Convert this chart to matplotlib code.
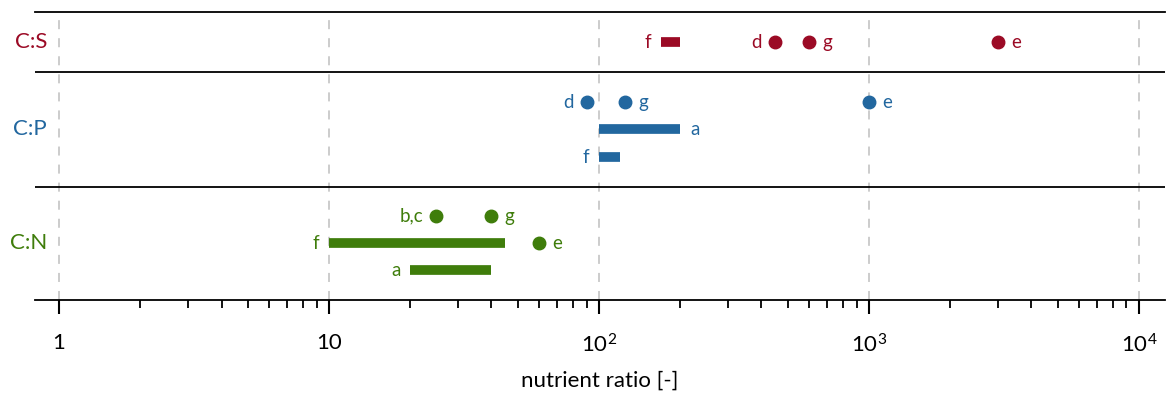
import matplotlib
matplotlib.use("Agg")
import matplotlib.pyplot as plt
from matplotlib.ticker import FixedLocator, FixedFormatter, NullFormatter

plt.rcParams['font.family'] = ['Lato', 'DejaVu Sans']
plt.rcParams['mathtext.fontset'] = 'custom'
plt.rcParams['mathtext.rm'] = 'Lato'
plt.rcParams['mathtext.it'] = 'Lato'

# ---- data ----
row_names = ["C:S", "C:P", "C:N"]
row_colors = ["#9b0a25", "#22679f", "#3f7d0b"]

# C:S
cs_pt_labels = ["d", "g", "e"]
cs_pt_values = [450, 600, 3000]
cs_bar_labels = ["f"]
cs_bar_lo = [170]
cs_bar_hi = [200]

# C:P
cp_pt_labels = ["d", "g", "e"]
cp_pt_values = [90, 125, 1000]
cp_bar_labels = ["a", "f"]
cp_bar_lo = [100, 100]
cp_bar_hi = [200, 120]

# C:N
cn_pt_labels = ["b,c", "g", "e"]
cn_pt_values = [25, 40, 60]
cn_bar_labels = ["f", "a"]
cn_bar_lo = [10, 20]
cn_bar_hi = [45, 40]

tick_vals = [1, 10, 100, 1000, 10000]
tick_text = ["1", "10", "$10^2$", "$10^3$", "$10^4$"]

# ---- layout (y in pixel-like units, top = 12, bottom = 300) ----
dividers = [72, 187]
row_centers = [42, 129, 243]
cs_pt_y = [42, 42, 42]
cs_pt_side = ["left", "right", "right"]
cs_bar_y = [42]
cs_bar_side = ["left"]
cp_pt_y = [102, 102, 102]
cp_pt_side = ["left", "right", "right"]
cp_bar_y = [129, 157]
cp_bar_side = ["right", "left"]
cn_pt_y = [216, 216, 243]
cn_pt_side = ["left", "right", "right"]
cn_bar_y = [243, 270]
cn_bar_side = ["left", "left"]

fig = plt.figure(figsize=(11.7, 3.96), dpi=100)
ax = fig.add_axes([35/1170, 96/396, 1130/1170, 288/396])
ax.set_xscale('log')
ax.set_xlim(0.815, 12500)
ax.set_ylim(300, 12)

for v in tick_vals:
    ax.axvline(v, color='#c8c8c8', lw=1.3, ls=(0, (5, 5)), zorder=0)
for d in dividers:
    ax.axhline(d, color='black', lw=1.3)

def label(x, y, txt, side, color, off):
    off = -off if side == "left" else off
    ha = 'right' if side == "left" else 'left'
    ax.annotate(txt, (x, y), xytext=(off, 0), textcoords='offset points',
                ha=ha, va='center', color=color, fontsize=13.5)

groups = [
    (cs_pt_labels, cs_pt_values, cs_pt_y, cs_pt_side,
     cs_bar_labels, cs_bar_lo, cs_bar_hi, cs_bar_y, cs_bar_side),
    (cp_pt_labels, cp_pt_values, cp_pt_y, cp_pt_side,
     cp_bar_labels, cp_bar_lo, cp_bar_hi, cp_bar_y, cp_bar_side),
    (cn_pt_labels, cn_pt_values, cn_pt_y, cn_pt_side,
     cn_bar_labels, cn_bar_lo, cn_bar_hi, cn_bar_y, cn_bar_side),
]

for i, g in enumerate(groups):
    pl, pv, py, ps, bl, blo, bhi, by, bs = g
    c = row_colors[i]
    ax.plot(pv, py, 'o', color=c, ms=9, ls='none')
    for lab, v, y, s in zip(pl, pv, py, ps):
        label(v, y, lab, s, c, 9.5)
    ax.hlines(by, blo, bhi, color=c, lw=7, capstyle='butt')
    for lab, lo, hi, y, s in zip(bl, blo, bhi, by, bs):
        label(lo if s == "left" else hi, y, lab, s, c, 7)
    ax.text(12 / 1130, 1 - (row_centers[i] - 12) / 288, row_names[i],
            transform=ax.transAxes, ha='right', va='center', color=c, fontsize=16)

for s in ['left', 'right']:
    ax.spines[s].set_visible(False)
ax.spines['top'].set_linewidth(1.3)
ax.spines['bottom'].set_linewidth(1.3)
ax.set_yticks([])

# minor ticks only between 1 and 10^4
minor = [m * 10**k for k in range(4) for m in range(2, 10)]
ax.xaxis.set_major_locator(FixedLocator(tick_vals))
ax.xaxis.set_major_formatter(FixedFormatter(tick_text))
ax.xaxis.set_minor_locator(FixedLocator(minor))
ax.xaxis.set_minor_formatter(NullFormatter())
ax.tick_params(axis='x', which='major', length=10, width=1.5, labelsize=16, pad=14)
ax.tick_params(axis='x', which='minor', length=6, width=1.3)
ax.set_xlabel("nutrient ratio [-]", fontsize=16, labelpad=10)

fig.savefig("out.png", dpi=100)
